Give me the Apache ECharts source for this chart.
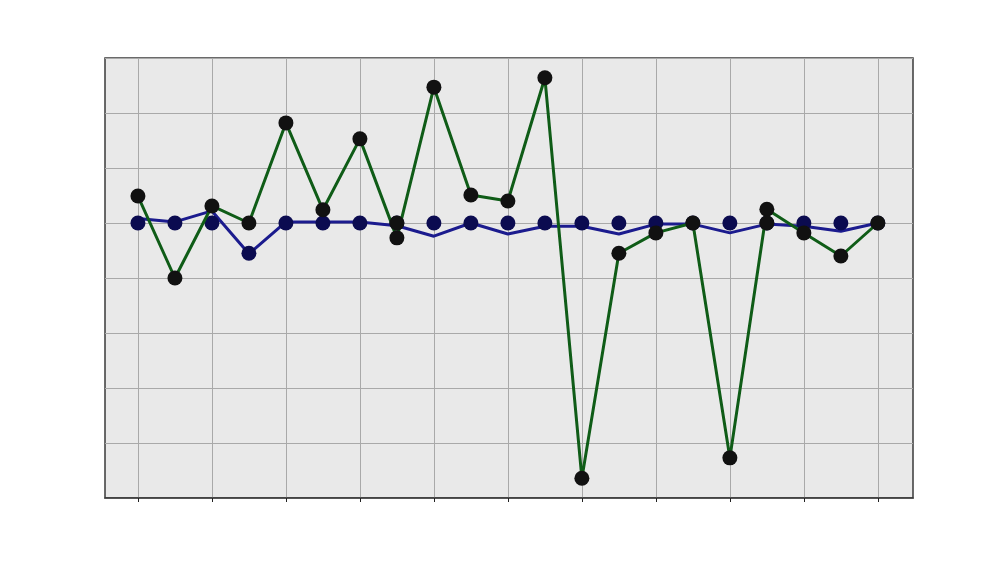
<!DOCTYPE html>
<html>
<head>
<meta charset="utf-8">
<script src="https://cdn.jsdelivr.net/npm/echarts@6/dist/echarts.min.js"></script>
<style>html,body{margin:0;padding:0;background:#fff}#c{width:1000px;height:563px}</style>
</head>
<body>
<div id="c"></div>
<script>
const xIndex = [0,1,2,3,4,5,6,7,8,9,10,11,12,13,14,15,16,17,18,19,20];
const xTicks = [0,2,4,6,8,10,12,14,16,18,20];
const greenValues = [0.49,-1.0,0.31,0,1.82,0.24,1.53,-0.27,2.47,0.51,0.40,2.64,-4.64,-0.55,-0.18,0,-4.27,0.25,-0.18,-0.6,0];
const blueLineValues = [0.08,0.02,0.22,-0.56,0.02,0.02,0.02,-0.05,-0.24,0,-0.2,-0.06,-0.06,-0.2,-0.02,-0.02,-0.18,-0.02,-0.06,-0.15,0];
const blueMarkerValues = [0,0,0,-0.55,0,0,0,0,0,0,0,0,0,0,0,0,0,0,0,0,0];
const extraBlackMarkers = [[7,0],[17,0]];

const pair = vals => xIndex.map((x,i)=>[x, vals[i]]);

const chart = echarts.init(document.getElementById('c'), null, {renderer:'canvas'});
chart.setOption({
  animation:false,
  backgroundColor:'#ffffff',
  grid:{left:105, top:58, width:808, height:440, show:true, backgroundColor:'#e9e9e9', borderColor:'#3a3a3a', borderWidth:1.5},
  xAxis:{type:'value', min:-0.89, max:20.95,
    axisLine:{show:true, onZero:false, lineStyle:{color:'#3a3a3a', width:1.5}},
    axisTick:{show:true, length:4, customValues:xTicks, lineStyle:{color:'#222', width:1}},
    axisLabel:{show:false, customValues:xTicks},
    splitLine:{show:true, lineStyle:{color:'#a9a9a9', width:1}}},
  yAxis:{type:'value', min:-5, max:3, interval:1,
    axisLine:{show:false}, axisTick:{show:false}, axisLabel:{show:false},
    splitLine:{show:true, lineStyle:{color:'#a9a9a9', width:1}}},
  series:[
    {type:'line', data:pair(blueLineValues), symbol:'none', lineStyle:{color:'#1b1b8e', width:3}, z:2},
    {type:'scatter', data:pair(blueMarkerValues), symbolSize:15, itemStyle:{color:'#0b0b50', opacity:1}, z:3},
    {type:'line', data:pair(greenValues), symbol:'circle', symbolSize:15, showAllSymbol:true,
      lineStyle:{color:'#0f5c17', width:3}, itemStyle:{color:'#111111', borderWidth:0, opacity:1}, z:4},
    {type:'scatter', data:extraBlackMarkers, symbolSize:15, itemStyle:{color:'#111111', opacity:1}, z:5}
  ]
});
</script>
</body>
</html>
